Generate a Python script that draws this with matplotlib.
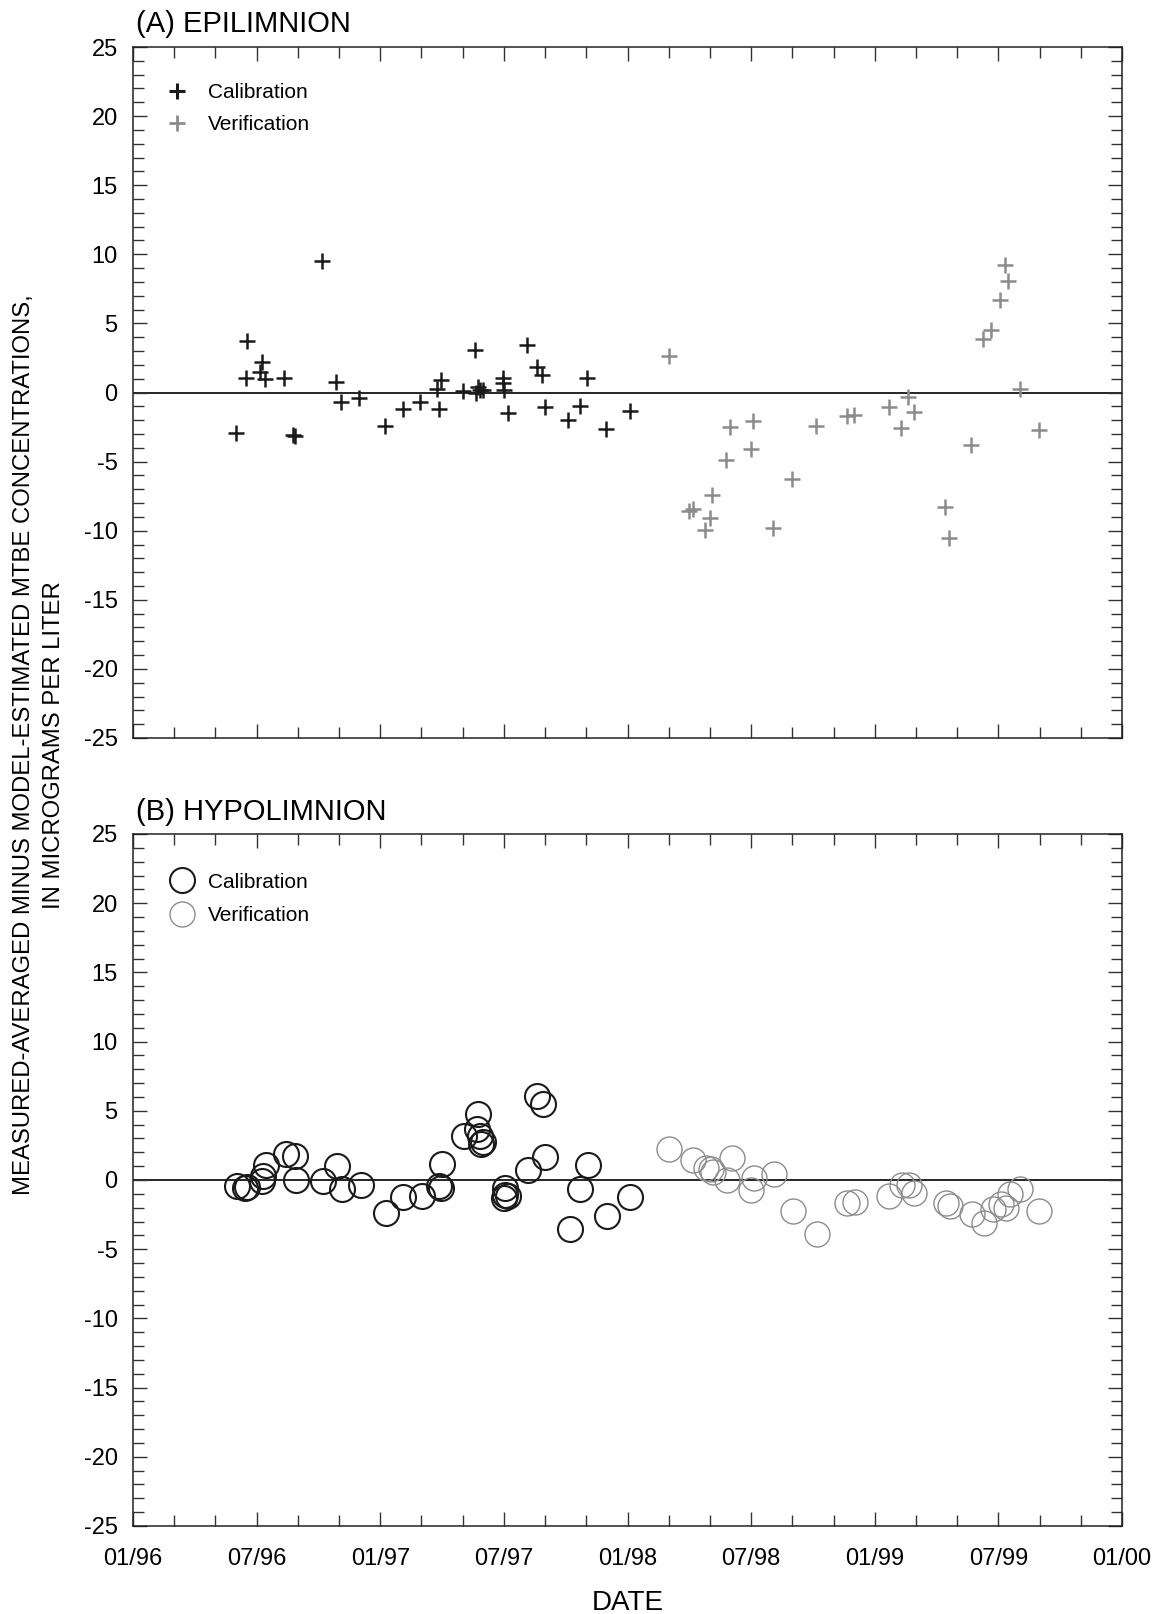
import matplotlib
matplotlib.use("Agg")
import matplotlib.pyplot as plt
from matplotlib.lines import Line2D
from matplotlib.ticker import MultipleLocator

plt.rcParams['font.family'] = ['Liberation Sans', 'DejaVu Sans']
plt.rcParams['axes.unicode_minus'] = False

# x values are months since 01/96
epi_cal_month = [5.0, 5.52, 5.49, 6.25, 6.17, 6.41, 7.35, 7.78, 7.86, 9.17,
                 9.84, 10.1, 10.99, 12.23, 13.09, 13.93, 14.87, 14.77, 14.94, 16.03,
                 16.6, 16.65, 16.76, 16.84, 16.97, 17.95, 17.98, 18.01, 18.22, 19.11,
                 19.6, 19.84, 20.0, 21.13, 21.7, 22.05, 22.96, 24.13]
epi_cal_val = [-2.95, 3.75, 1.07, 2.23, 1.51, 0.95, 1.07, -3.08, -3.15, 9.5,
               0.78, -0.66, -0.42, -2.40, -1.22, -0.66, -1.22, 0.23, 0.9, 0.13,
               3.08, -0.06, 0.37, 0.18, 0.18, 1.03, 0.71, 0.18, -1.5, 3.44,
               1.87, 1.27, -1.07, -1.99, -0.98, 1.03, -2.66, -1.32]

epi_ver_month = [25.99, 27.0, 27.2, 27.77, 28.01, 28.09, 28.79, 28.98, 30.11, 29.99,
                 31.05, 31.98, 33.14, 34.64, 34.97, 36.67, 37.27, 37.61, 37.91, 39.42,
                 39.58, 40.66, 41.25, 41.65, 42.09, 42.33, 42.49, 43.03, 43.95]
epi_ver_val = [2.67, -8.6, -8.4, -9.95, -9.1, -7.42, -4.88, -2.47, -2.04, -4.09,
               -9.83, -6.28, -2.42, -1.68, -1.63, -1.07, -2.55, -0.30, -1.43, -8.31,
               -10.55, -3.80, 3.85, 4.52, 6.69, 9.23, 8.07, 0.25, -2.71]

hyp_cal_month = [5.06, 5.52, 5.44, 6.25, 6.33, 6.46, 7.43, 7.86, 7.91, 9.24,
                 9.89, 10.16, 11.05, 12.28, 13.12, 14.01, 14.87, 14.94, 14.98, 16.08,
                 16.72, 16.69, 16.82, 17.01, 16.88, 18.06, 18.06, 18.01, 18.22, 19.19,
                 19.63, 19.89, 20.0, 21.21, 21.7, 22.1, 22.99, 24.13]
hyp_cal_val = [-0.45, -0.49, -0.55, -0.08, 0.28, 1.07, 1.85, 1.77, -0.01, -0.08,
               1.0, -0.62, -0.37, -2.37, -1.24, -1.17, -0.45, -0.57, 1.17, 3.17,
               4.74, 3.65, 3.17, 2.74, 2.57, -0.57, -1.05, -1.29, -1.17, 0.71,
               6.06, 5.46, 1.68, -3.51, -0.62, 1.07, -2.62, -1.24]

hyp_ver_month = [26.03, 27.17, 27.8, 28.04, 28.14, 29.06, 28.85, 30.16, 30.0, 31.12,
                 32.02, 33.19, 34.67, 35.05, 36.67, 37.31, 37.64, 37.91, 39.47, 39.63,
                 40.71, 41.31, 41.76, 42.12, 42.38, 42.54, 43.06, 43.98]
hyp_ver_val = [2.26, 1.43, 0.88, 0.76, 0.57, 1.56, -0.01, 0.16, -0.69, 0.45,
               -2.26, -3.87, -1.65, -1.58, -1.12, -0.33, -0.37, -0.93, -1.65, -1.85,
               -2.45, -3.1, -2.13, -1.77, -2.01, -0.98, -0.64, -2.26]

tick_months = [0, 6, 12, 18, 24, 30, 36, 42, 48]
tick_labels = ['01/96', '07/96', '01/97', '07/97', '01/98', '07/98', '01/99', '07/99', '01/00']

dark = '#1a1a1a'
grey = '#8c8c8c'

W, H = 1165, 1614
fig = plt.figure(figsize=(W / 100, H / 100), dpi=100)
axA = fig.add_axes([133 / W, 1 - 738 / H, 989 / W, 691 / H])
axB = fig.add_axes([133 / W, 1 - 1526 / H, 989 / W, 692 / H])

for ax in (axA, axB):
    ax.set_xlim(0, 48)
    ax.set_ylim(-25, 25)
    ax.axhline(0, color='black', lw=1.2, zorder=1)
    ax.xaxis.set_major_locator(MultipleLocator(6))
    ax.xaxis.set_minor_locator(MultipleLocator(2))
    ax.yaxis.set_major_locator(MultipleLocator(5))
    ax.yaxis.set_minor_locator(MultipleLocator(1))
    ax.tick_params(which='both', direction='in', top=True, right=True,
                   color='#333333', width=1.0)
    ax.tick_params(which='major', length=10)
    ax.tick_params(which='minor', length=8)
    ax.tick_params(axis='y', labelsize=17, pad=11)
    ax.tick_params(axis='x', labelsize=17, pad=16)
    for s in ax.spines.values():
        s.set_linewidth(1.1)
        s.set_color('#222222')

axA.set_xticks(tick_months)
axA.set_xticklabels([])
axB.set_xticks(tick_months)
axB.set_xticklabels(tick_labels)

# (A) epilimnion
axA.plot(epi_cal_month, epi_cal_val, ls='none', marker='+', ms=11, mew=1.8, color=dark, zorder=3)
axA.plot(epi_ver_month, epi_ver_val, ls='none', marker='+', ms=11, mew=1.8, color=grey, zorder=3)
axA.set_title('(A) EPILIMNION', loc='left', fontsize=21, pad=10.5, x=0.003)

handlesA = [Line2D([], [], ls='none', marker='+', ms=12, mew=2.2, color=dark, label='Calibration'),
            Line2D([], [], ls='none', marker='+', ms=12, mew=2.0, color=grey, label='Verification')]
axA.legend(handles=handlesA, loc='upper left', bbox_to_anchor=(0.034, 0.948), frameon=False,
           fontsize=15, handlelength=1.0, handletextpad=1.0, labelspacing=0.65,
           borderpad=0, borderaxespad=0)

# (B) hypolimnion
axB.plot(hyp_cal_month, hyp_cal_val, ls='none', marker='o', ms=18, mfc='none', mew=1.5,
         mec=dark, zorder=3)
axB.plot(hyp_ver_month, hyp_ver_val, ls='none', marker='o', ms=18, mfc='none', mew=1.0,
         mec=grey, zorder=3)
axB.set_title('(B) HYPOLIMNION', loc='left', fontsize=21, pad=10, x=0.003)

handlesB = [Line2D([], [], ls='none', marker='o', ms=18, mfc='none', mew=1.5, mec=dark, label='Calibration'),
            Line2D([], [], ls='none', marker='o', ms=18, mfc='none', mew=1.0, mec=grey, label='Verification')]
axB.legend(handles=handlesB, loc='upper left', bbox_to_anchor=(0.039, 0.944), frameon=False,
           fontsize=15, handlelength=1.0, handletextpad=0.75, labelspacing=0.7,
           borderpad=0, borderaxespad=0)

axB.set_xlabel('DATE', fontsize=20, labelpad=14)

fig.text(24 / W, 1 - 745 / H, 'MEASURED-AVERAGED MINUS MODEL-ESTIMATED MTBE CONCENTRATIONS,',
         rotation=90, ha='center', va='center', fontsize=17.2)
fig.text(54 / W, 1 - 745 / H, 'IN MICROGRAMS PER LITER',
         rotation=90, ha='center', va='center', fontsize=17.2)

fig.savefig('out.png', dpi=100)
